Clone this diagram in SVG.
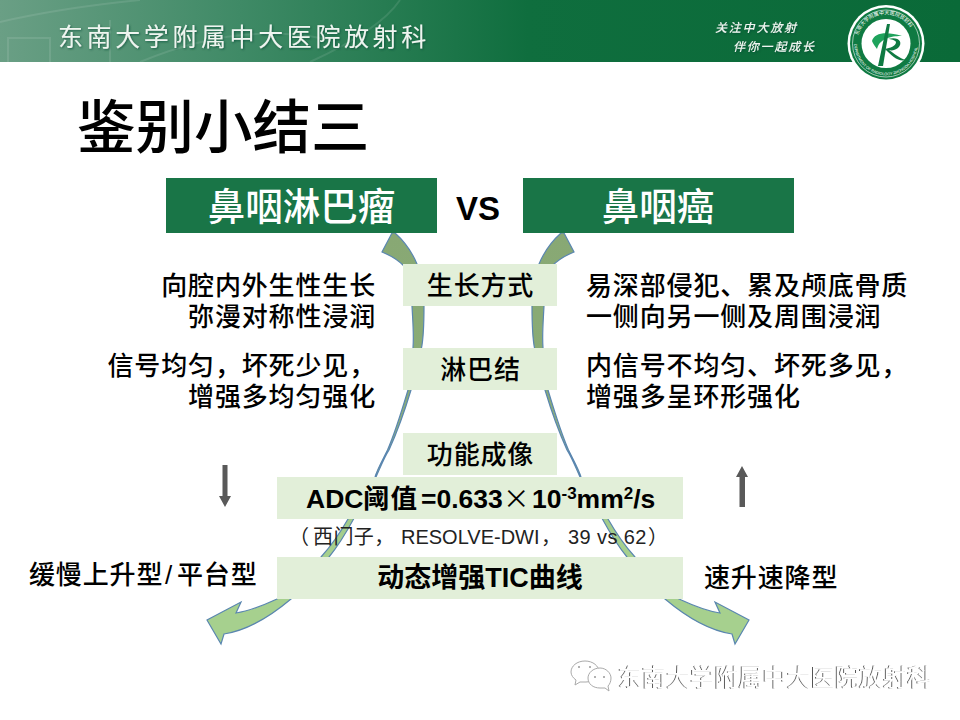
<svg xmlns="http://www.w3.org/2000/svg" width="960" height="720" viewBox="0 0 960 720">
<style>
text{font-family:"Liberation Sans","Noto Sans CJK SC",sans-serif;fill:#000}
.t{font-size:26px;font-weight:500;letter-spacing:.85px}
.c{text-anchor:middle}
.e{text-anchor:end}
.lb{fill:#e2efd9}
.dg{fill:#197547}
.hd{font-size:37.500px;font-weight:500;fill:#fff;text-anchor:middle}
.cv{fill:url(#ag);stroke:#5a86b0;stroke-width:1.2}
.ar{fill:#595959}
.sl{font-size:12px;font-weight:500;letter-spacing:1.8px;fill:#eef5f0;font-style:italic}
</style>
<defs>
<linearGradient id="hg" x1="0" x2="1" y1="0" y2="0"><stop offset="0" stop-color="#6a9f85"/><stop offset=".25" stop-color="#3f8a66"/><stop offset=".55" stop-color="#0f6e3e"/><stop offset="1" stop-color="#0a6a38"/></linearGradient>
<linearGradient id="ag" gradientUnits="userSpaceOnUse" x1="0" y1="233" x2="0" y2="645"><stop offset="0" stop-color="#88a874"/><stop offset=".4" stop-color="#8aac76"/><stop offset=".75" stop-color="#a6d08e"/><stop offset="1" stop-color="#a6d08e"/></linearGradient>
<filter id="sh" x="-5%" y="-20%" width="110%" height="140%"><feDropShadow dx="1" dy="1" stdDeviation=".8" flood-color="#043" flood-opacity=".7"/></filter>
<filter id="wm" x="-5%" y="-20%" width="110%" height="140%"><feDropShadow dx="-1" dy="0" stdDeviation=".2" flood-color="#555" flood-opacity="1"/></filter>
<path id="ringb" d="M854.500 40a31.700 31.700 0 1 0 63 0"/>
<path id="ringa" d="M857 43.500a29 29 0 0 1 58 0"/>
</defs>
<rect width="960" height="720" fill="#fff"/>
<g id="header">
<rect width="960" height="62" fill="url(#hg)"/>
<path d="M0 22Q60 8 140 0M8 62V38H50V62M110 62V20M310 62Q380 30 400 0M140 62Q240 20 330 40" fill="none" stroke="#fff" stroke-opacity=".1" stroke-width="2"/>
<text x="58" y="46" style="font-size:25px;font-weight:400;letter-spacing:3.600px;fill:#eef5f0" filter="url(#sh)">东南大学附属中大医院放射科</text>
<text class="sl" x="715" y="32" filter="url(#sh)">关注中大放射</text>
<text class="sl" x="733" y="51" filter="url(#sh)">伴你一起成长</text>
</g>
<g id="logo">
<circle cx="886" cy="43.500" r="38.500" fill="#fff"/>
<circle cx="886" cy="43.500" r="36" fill="#0f7a42"/>
<circle cx="886" cy="43.500" r="24.500" fill="#fff"/>
<circle cx="886" cy="43.500" r="33.500" fill="none" stroke="#fff" stroke-width=".6"/>
<path d="M872 41C874 33 886 31 902 36C894 36 880 37 877 49C875 46 873 44 872 41Z" fill="#1fa35c"/>
<path d="M887 24L890 24L883 66L878 66Z" fill="#0f7a42"/>
<path d="M888 39C898 36 904 42 898 48C895 50 892 51 889 50C895 54 899 58 906 60C898 62 892 56 885 49C890 48 896 46 896 42C895 40 891 39 888 39Z" fill="#0f7a42"/>
<text style="font-size:5px;fill:#fff;letter-spacing:.1px"><textPath href="#ringa" startOffset="8">东南大学附属中大医院放射科</textPath></text>
<text style="font-size:3.800px;fill:#fff"><textPath href="#ringb" startOffset="4">DEPARTMENT OF RADIOLOGY ZHONGDA HOSPITAL</textPath></text>
</g>
<text id="title" x="77" y="148" style="font-size:58.500px;font-weight:500">鉴别小结三</text>
<g id="connectors">
<path id="curve-left" class="cv" d="M392 233L382 252C392 256 399 261 404 266C409 280 412 295 412 306C413 325 414 335 413 348C412 365 410 378 408 390C402 410 395 433 387.500 450C381 463 377 470 375 477C365 495 357 508 348 519C340 533 331 546 321 557C308 574 295 588 277 599C264 605 250 611 236 613L241 602L207 620L221 644L224 634C250 630 272 615 291 599C305 587 318 572 329 557C338 546 346 533 353.600 519C362 505 369 490 376 477C381 466 384 458 389 450C398 430 405 410 411 390C417 375 421 362 421.500 348C424 335 424 320 424 306C424 290 421 275 417 264C412 252 404 241 395 233Z"/>
<path id="curve-right" class="cv" transform="matrix(-1 0 0 1 956 0)" d="M392 233L382 252C392 256 399 261 404 266C409 280 412 295 412 306C413 325 414 335 413 348C412 365 410 378 408 390C402 410 395 433 387.500 450C381 463 377 470 375 477C365 495 357 508 348 519C340 533 331 546 321 557C308 574 295 588 277 599C264 605 250 611 236 613L241 602L207 620L221 644L224 634C250 630 272 615 291 599C305 587 318 572 329 557C338 546 346 533 353.600 519C362 505 369 490 376 477C381 466 384 458 389 450C398 430 405 410 411 390C417 375 421 362 421.500 348C424 335 424 320 424 306C424 290 421 275 417 264C412 252 404 241 395 233Z"/>
<path id="arrow-down" class="ar" d="M222.500 465H227.500V496H231L225 507L219 496H222.500Z"/>
<path id="arrow-up" class="ar" d="M739.500 507H745V477H748L742 466L736 477H739.500Z"/>
</g>
<g id="n-npl"><rect class="dg" x="166" y="178" width="271" height="55"/><text class="hd" x="301.500" y="220">鼻咽淋巴瘤</text></g>
<text id="vs" class="c" x="478" y="220" style="font-size:33px;font-weight:700">VS</text>
<g id="n-npc"><rect class="dg" x="523" y="178" width="271" height="55"/><text class="hd" x="658" y="220">鼻咽癌</text></g>
<g id="n-growth"><rect class="lb" x="403" y="264" width="154" height="42"/><text class="t c" x="480.500" y="295">生长方式</text></g>
<g id="n-node"><rect class="lb" x="403" y="348" width="154" height="42"/><text class="t c" x="480.500" y="379">淋巴结</text></g>
<g id="n-func"><rect class="lb" x="403" y="433" width="154" height="42"/><text class="t c" x="480.500" y="464">功能成像</text></g>
<g id="n-adc"><rect class="lb" x="277" y="477" width="406" height="42"/><text x="306" y="508" style="font-size:26.500px;font-weight:700">ADC<tspan x="363" letter-spacing="1">阈值</tspan><tspan x="421">=0.633</tspan><tspan x="503" font-size="26.500" font-weight="400" font-family="Noto Sans CJK JP">×</tspan><tspan x="532">10</tspan><tspan dy="-9" style="font-size:17px">-3</tspan><tspan dy="9">mm</tspan><tspan dy="-9" style="font-size:17px">2</tspan><tspan dy="9">/s</tspan></text></g>
<text id="vendor" y="544" style="font-size:20px;fill:#222"><tspan x="289">（</tspan><tspan x="313" letter-spacing=".4">西门子，</tspan><tspan x="401">RESOLVE-DWI</tspan><tspan x="541">，</tspan><tspan x="568" letter-spacing=".4">39 vs 62</tspan><tspan x="648">）</tspan></text>
<g id="n-tic"><rect class="lb" x="277" y="557" width="406" height="42"/><text class="c" x="480" y="587" style="font-size:27px;font-weight:700">动态增强TIC曲线</text></g>
<g id="labels-left">
<text class="t e" x="376" y="295">向腔内外生性生长</text>
<text class="t e" x="376" y="326">弥漫对称性浸润</text>
<text class="t e" x="376" y="375">信号均匀，坏死少见，</text>
<text class="t e" x="376" y="406">增强多均匀强化</text>
<text class="t" x="29" y="584">缓慢上升型<tspan x="165">/</tspan><tspan x="177">平台型</tspan></text>
</g>
<g id="labels-right">
<text class="t" x="586" y="295">易深部侵犯、累及颅底骨质</text>
<text class="t" x="586" y="326">一侧向另一侧及周围浸润</text>
<text class="t" x="586" y="375">内信号不均匀、坏死多见，</text>
<text class="t" x="586" y="406">增强多呈环形强化</text>
<text class="t" x="704" y="587">速升速降型</text>
</g>
<g id="watermark">
<g fill="#fff" stroke="#aaa" stroke-width="1">
<path d="M585 661c-8 0-14 5-14 11c0 3 2 6 5 8l-1 5l5-3l6 0c6 0 13-5 13-10c0-6-6-11-14-11z"/>
<path d="M600 668c-7 0-12 5-12 10c0 6 5 10 12 10l5 0l4 3l-1-5c2-2 3-5 3-8c0-5-5-10-11-10z"/>
</g>
<circle cx="579" cy="667" r="1" fill="#999"/><circle cx="590" cy="667" r="1" fill="#999"/><circle cx="595" cy="677" r="1" fill="#999"/><circle cx="604" cy="677" r="1" fill="#999"/>
<text x="618" y="686" style="font-size:24px;letter-spacing:.1px;fill:#fff" filter="url(#wm)">东南大学附属中大医院放射科</text>
</g>
</svg>
